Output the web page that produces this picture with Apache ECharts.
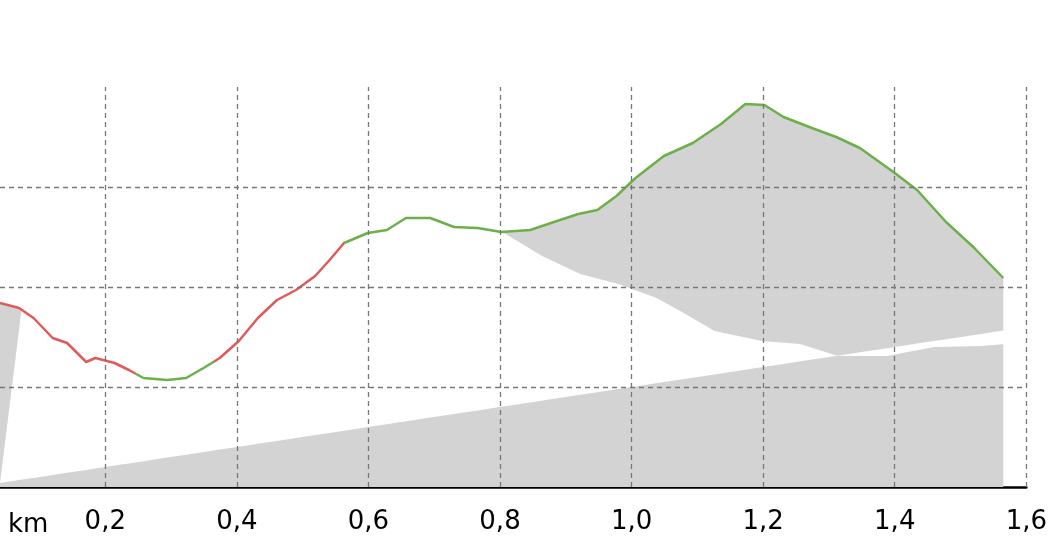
<!DOCTYPE html>
<html><head><meta charset="utf-8">
<script src="https://cdn.jsdelivr.net/npm/echarts@6/dist/echarts.min.js"></script>
<style>html,body{margin:0;padding:0;background:#fff}#c{width:1050px;height:560px}</style>
</head><body><div id="c"></div>
<script>
const km = [0.040,0.069,0.091,0.120,0.142,0.171,0.185,0.214,0.236,0.258,0.294,0.323,0.352,0.374,0.403,0.432,0.461,0.490,0.519,0.541,0.563,0.599,0.628,0.657,0.694,0.730,0.766,0.802,0.846,0.882,0.919,0.948,0.977,1.006,1.049,1.093,1.136,1.173,1.202,1.231,1.274,1.311,1.347,1.398,1.434,1.478,1.521,1.565];
const elev = [1.84,1.79,1.69,1.49,1.44,1.25,1.29,1.24,1.17,1.09,1.07,1.09,1.20,1.29,1.46,1.69,1.87,1.97,2.11,2.27,2.44,2.54,2.57,2.69,2.69,2.60,2.59,2.55,2.57,2.65,2.73,2.77,2.91,3.09,3.31,3.44,3.63,3.83,3.82,3.70,3.59,3.50,3.39,3.15,2.97,2.65,2.39,2.09];
const xTicks = [0.2,0.4,0.6,0.8,1.0,1.2,1.4,1.6];
const gridValues = [1,2,3];
const yMax = 4;
const redRanges = [[0,0.245],[0.365,0.563]];
const under = km.map((k,i)=>[k,elev[i]]);
const over = km.map((k,i)=>[k,yMax-elev[i]]);
const dashed = {color:'#777',type:[5,4],width:1.3};
const chart = echarts.init(document.getElementById('c'));
chart.setOption({
  animation:false,
  grid:{left:0,width:1074,top:87,bottom:73,containLabel:false},
  xAxis:{type:'value',min:0.04,max:1.6,
    axisLine:{show:true,lineStyle:{color:'#000',width:2.5}},
    axisTick:{show:false,customValues:xTicks},
    axisLabel:{margin:22,fontSize:26,color:'#000',fontFamily:'DejaVu Sans',customValues:xTicks,
      formatter:v=>v.toFixed(1).replace('.',',')},
    splitLine:{show:false}},
  yAxis:{type:'value',min:0,max:yMax,show:false,splitLine:{show:false}},
  visualMap:{show:false,seriesIndex:2,dimension:0,pieces:[
    {lt:redRanges[0][1],color:'#e05a5a'},
    {gte:redRanges[0][1],lt:redRanges[1][0],color:'#6bb04a'},
    {gte:redRanges[1][0],lt:redRanges[1][1],color:'#e05a5a'},
    {gte:redRanges[1][1],color:'#6bb04a'}]},
  graphic:[{type:'text',left:8,top:512,style:{text:'km',fontSize:26,fill:'#000',fontFamily:'DejaVu Sans'}}],
  series:[
    {type:'line',data:under,stack:'s',symbol:'none',lineStyle:{width:0},
     areaStyle:{color:'#d3d3d3',opacity:1},z:1,
     markLine:{silent:true,symbol:'none',label:{show:false},lineStyle:dashed,
       data:xTicks.map(v=>({xAxis:v}))}},
    {type:'line',data:over,stack:'s',symbol:'none',lineStyle:{width:0},
     areaStyle:{color:'#fff',opacity:1},z:2,
     markLine:{silent:true,symbol:'none',label:{show:false},lineStyle:dashed,
       data:gridValues.map(v=>({yAxis:v}))}},
    {type:'line',data:under,symbol:'none',lineStyle:{width:2.5},z:4}
  ]
});
</script></body></html>
